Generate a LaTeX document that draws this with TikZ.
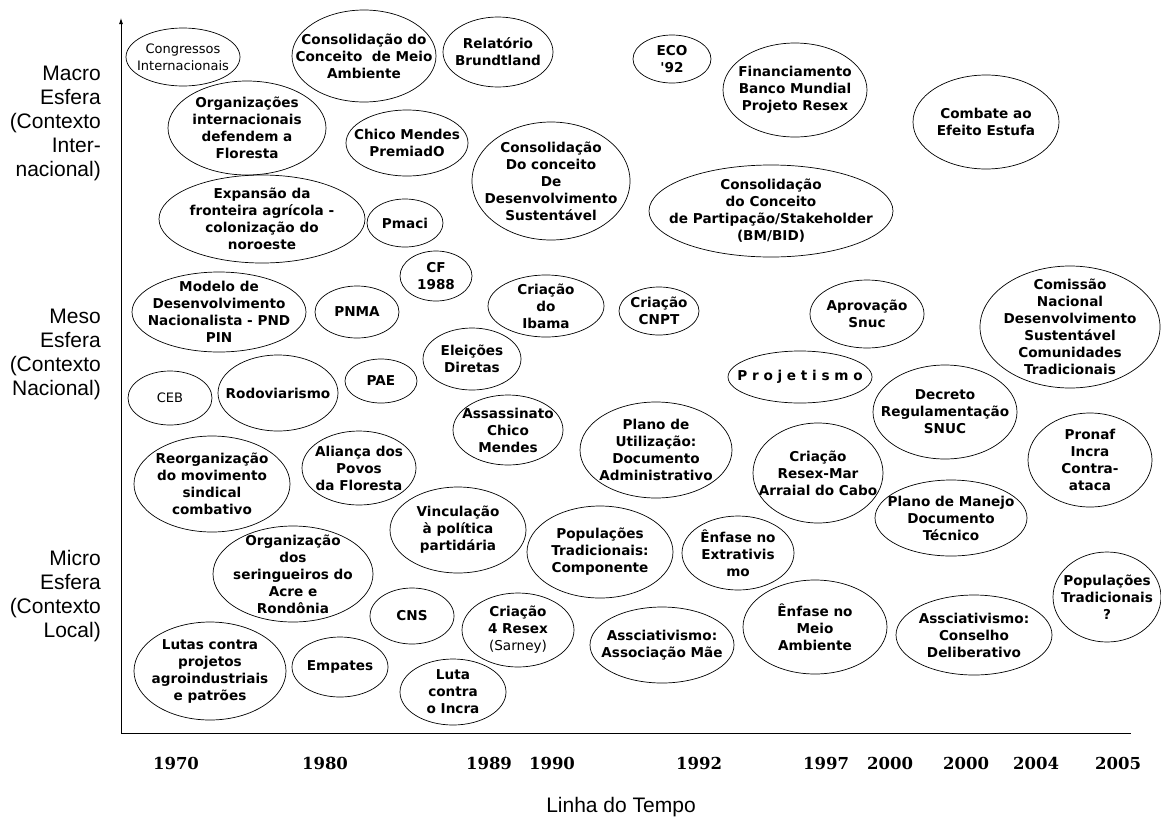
\documentclass[tikz,border=0pt]{standalone}
\usepackage{fontspec}
\usepackage{tikz}
\usetikzlibrary{shapes.geometric,arrows.meta}
\newfontfamily\bubblefont{DejaVu Sans}
\newfontfamily\sidefont{Liberation Sans}
\newfontfamily\yearfont{DejaVu Serif}

\tikzset{
  bubble/.style 2 args={ellipse, draw, line width=0.7pt, minimum width=#1, minimum height=#2, inner sep=0pt},
  btxt/.style={align=center, inner sep=0pt, font=\bubblefont\bfseries\fontsize{13.6}{17}\selectfont},
  bthin/.style={align=center, inner sep=0pt, font=\bubblefont\fontsize{13}{17}\selectfont},
  sphere/.style={anchor=east, align=right, inner sep=0pt, font=\sidefont\fontsize{21}{24}\selectfont},
  year/.style={inner sep=0pt, font=\yearfont\bfseries\fontsize{16.5}{18}\selectfont},
}

\begin{document}
\begin{tikzpicture}[x=1pt,y=-1pt]
  \useasboundingbox (0,0) rectangle (1161,817);

  % Axes
  \coordinate (origin) at (121,733);
  \coordinate (ytop)   at (121,18);
  \coordinate (xend)   at (1131,733);
  \draw[line width=0.8pt, -{Latex[length=6pt,width=4pt]}] (origin) -- (ytop);
  \draw[line width=0.8pt] (origin) -- (xend);

  % Spheres (left side)
  \node[sphere] (macro) at (101,123) {Macro\\Esfera\\(Contexto\\Inter-\\nacional)};
  \node[sphere] (meso)  at (101,354) {Meso\\Esfera\\(Contexto\\Nacional)};
  \node[sphere] (micro) at (101,596) {Micro\\Esfera\\(Contexto\\Local)};

  % Years
  \node[year] (y70)  at (176,763)  {1970};
  \node[year] (y80)  at (325,763)  {1980};
  \node[year] (y89)  at (489,763)  {1989};
  \node[year] (y90)  at (552,763)  {1990};
  \node[year] (y92)  at (699,763)  {1992};
  \node[year] (y97)  at (826,763)  {1997};
  \node[year] (y00a) at (890,763)  {2000};
  \node[year] (y00b) at (966,763)  {2000};
  \node[year] (y04)  at (1036,763) {2004};
  \node[year] (y05)  at (1118,763) {2005};
  \node[font=\sidefont\fontsize{21}{24}\selectfont, inner sep=0pt] (tempo) at (621,807) {Linha do Tempo};

  % Macro sphere
  \node[bubble={114}{58}, label={[bthin]center:{Congressos\\Internacionais}}] (cong) at (183,57) {};
  \node[bubble={144}{92}, label={[btxt]center:{Consolidação do\\Conceito~ de Meio\\Ambiente}}] (consma) at (364,56) {};
  \node[bubble={110}{70}, label={[btxt]center:{Relatório\\Brundtland}}] (brund) at (498,52) {};
  \node[bubble={78}{48}, label={[btxt]center:{ECO\\'92}}] (eco) at (672,59) {};
  \node[bubble={144}{94}, label={[btxt]center:{Financiamento\\Banco Mundial\\Projeto Resex}}] (financ) at (795,90) {};
  \node[bubble={146}{94}, label={[btxt]center:{Combate ao\\Efeito Estufa}}] (estufa) at (986,122) {};
  \node[bubble={158}{94}, label={[btxt]center:{Organizações\\internacionais\\defendem a\\Floresta}}] (orgint) at (247,128) {};
  \node[bubble={122}{66}, label={[btxt]center:{Chico Mendes\\PremiadO}}] (chico) at (407,143) {};
  \node[bubble={158}{118}, label={[btxt]center:{Consolidação\\Do conceito\\De\\Desenvolvimento\\Sustentável}}] (consds) at (551,181) {};
  \node[bubble={244}{92}, label={[btxt]center:{Consolidação\\do Conceito\\de Partipação/Stakeholder\\(BM/BID)}}] (consstake) at (771,211) {};
  \node[bubble={206}{88}, label={[btxt]center:{Expansão da\\fronteira agrícola -\\colonização do\\noroeste}}] (expansao) at (262,219) {};
  \node[bubble={76}{48}, label={[btxt]center:{Pmaci}}] (pmaci) at (405,223) {};

  % Meso sphere
  \node[bubble={72}{50}, label={[btxt]center:{CF\\1988}}] (cf) at (436,276) {};
  \node[bubble={174}{80}, label={[btxt]center:{Modelo de\\Desenvolvimento\\Nacionalista - PND\\PIN}}] (modelo) at (219,312) {};
  \node[bubble={84}{52}, label={[btxt]center:{PNMA}}] (pnma) at (357,312) {};
  \node[bubble={116}{62}, label={[btxt]center:{Criação\\do\\Ibama}}] (ibama) at (546,306) {};
  \node[bubble={80}{48}, label={[btxt]center:{Criação\\CNPT}}] (cnpt) at (659,311) {};
  \node[bubble={114}{68}, label={[btxt]center:{Aprovação\\Snuc}}] (snuc) at (867,314) {};
  \node[bubble={180}{122}, label={[btxt]center:{Comissão\\Nacional\\Desenvolvimento\\Sustentável\\Comunidades\\Tradicionais}}] (comissao) at (1070,327) {};
  \node[bubble={98}{62}, label={[btxt]center:{Eleições\\Diretas}}] (eleicoes) at (472,359) {};
  \node[bubble={84}{54}, label={[bthin]center:{CEB}}] (ceb) at (170,398) {};
  \node[bubble={120}{76}, label={[btxt]center:{Rodoviarismo}}] (rodov) at (278,393) {};
  \node[bubble={72}{44}, label={[btxt]center:{PAE}}] (pae) at (381,381) {};
  \node[bubble={144}{52}, label={[btxt]center:{P r o j e t i s m o}}] (projet) at (800,377) {};
  \node[bubble={144}{94}, label={[btxt]center:{Decreto\\Regulamentação\\SNUC}}] (decreto) at (945,412) {};
  \node[bubble={156}{96}, label={[btxt]center:{Reorganização\\do movimento\\sindical\\combativo}}] (reorg) at (212,484) {};
  \node[bubble={114}{74}, label={[btxt]center:{Aliança dos\\Povos\\da Floresta}}] (alianca) at (359,468) {};
  \node[bubble={110}{70}, label={[btxt]center:{Assassinato\\Chico\\Mendes}}] (assass) at (508,430) {};
  \node[bubble={152}{96}, label={[btxt]center:{Plano de\\Utilização:\\Documento\\Administrativo}}] (planoutil) at (656,450) {};
  \node[bubble={130}{100}, label={[btxt]center:{Criação\\Resex-Mar\\Arraial do Cabo}}] (resexmar) at (818,473) {};
  \node[bubble={124}{94}, label={[btxt]center:{Pronaf\\Incra\\Contra-\\ataca}}] (pronaf) at (1090,460) {};

  % Micro sphere
  \node[bubble={136}{86}, label={[btxt]center:{Vinculação\\à política\\partidária}}] (vincul) at (458,530) {};
  \node[bubble={146}{92}, label={[btxt]center:{Populações\\Tradicionais:\\Componente}}] (popcomp) at (600,552) {};
  \node[bubble={112}{74}, label={[btxt]center:{Ênfase no\\Extrativis\\mo}}] (extrat) at (738,553) {};
  \node[bubble={152}{76}, label={[btxt]center:{Plano de Manejo\\Documento\\Técnico}}] (manejo) at (951,518) {};
  \node[bubble={160}{96}, label={[btxt]center:{Organização\\dos\\seringueiros do\\Acre e\\Rondônia}}] (seringa) at (293,574) {};
  \node[bubble={84}{56}, label={[btxt]center:{CNS}}] (cns) at (412,616) {};
  \node[bubble={112}{74}, label={[btxt]center:{Criação\\4 Resex\\{\mdseries(Sarney)}}}] (resex4) at (518,630) {};
  \node[bubble={144}{76}, label={[btxt]center:{Assciativismo:\\Associação Mãe}}] (assocmae) at (662,645) {};
  \node[bubble={144}{94}, label={[btxt]center:{Ênfase no\\Meio\\Ambiente}}] (meioamb) at (815,627) {};
  \node[bubble={156}{80}, label={[btxt]center:{Assciativismo:\\Conselho\\Deliberativo}}] (conselho) at (974,635) {};
  \node[bubble={108}{90}, label={[btxt]center:{Populações\\Tradicionais\\?}}] (poptrad) at (1107,597) {};
  \node[bubble={152}{98}, label={[btxt]center:{Lutas contra\\projetos\\agroindustriais\\e patrões}}] (lutas) at (210,671) {};
  \node[bubble={96}{60}, label={[btxt]center:{Empates}}] (empates) at (340,667) {};
  \node[bubble={106}{66}, label={[btxt]center:{Luta\\contra\\o Incra}}] (incra) at (453,692) {};
\end{tikzpicture}
\end{document}
